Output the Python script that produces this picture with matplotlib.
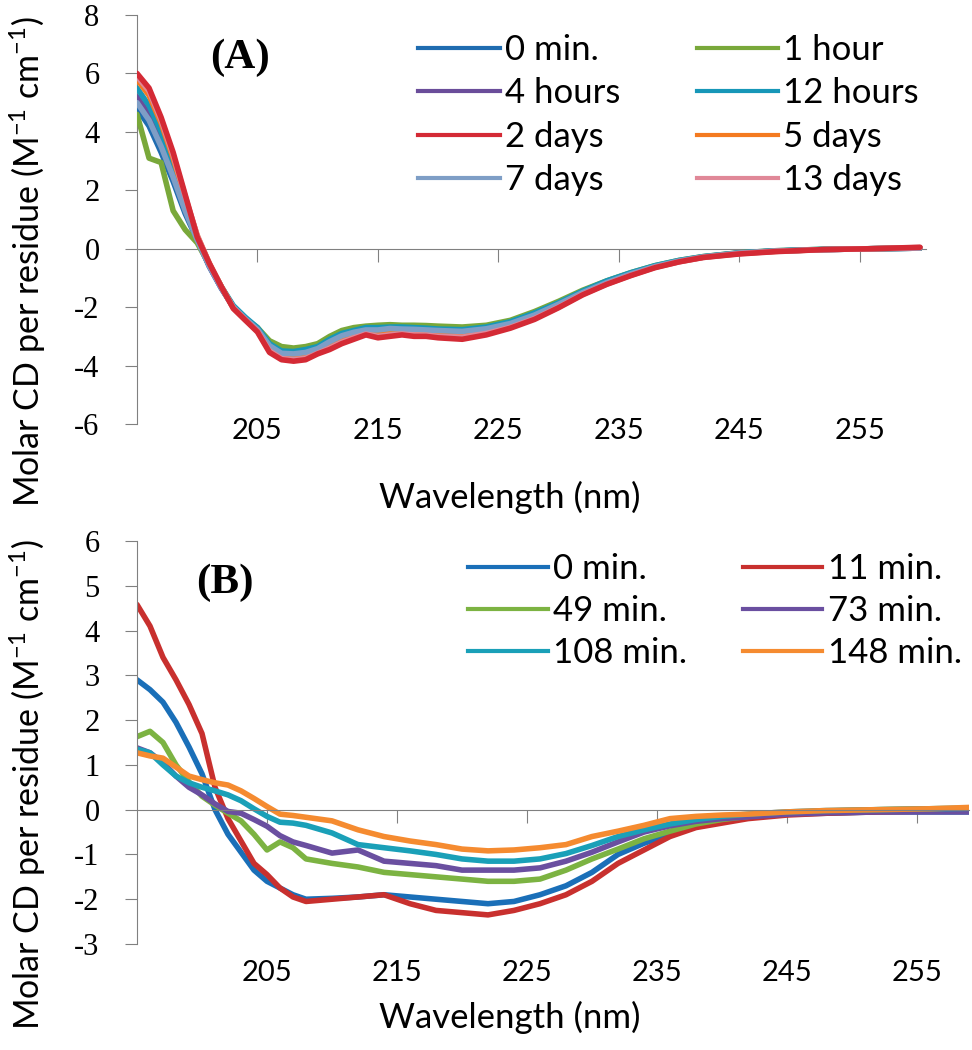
import numpy as np
import matplotlib.pyplot as plt
from matplotlib.lines import Line2D

plt.rcParams['font.family'] = ['Lato', 'DejaVu Sans']
plt.rcParams['mathtext.fontset'] = 'custom'
plt.rcParams['mathtext.rm'] = 'Lato'
plt.rcParams['mathtext.it'] = 'Lato:italic'
plt.rcParams['mathtext.bf'] = 'Lato:bold'

# ---- panel A : long incubation ----
wl_a = [195, 196, 197, 198, 199, 200, 201, 202, 203, 204, 205, 206, 207, 208, 209, 210,
        211, 212, 213, 214, 215, 216, 217, 218, 219, 220, 222, 224, 226, 228, 230, 232,
        234, 236, 238, 240, 242, 245, 248, 252, 256, 260]

a_0min = [4.8, 4.2, 3.3, 2.3, 1.2, 0.3, -0.6, -1.35, -2.0, -2.4, -2.75, -3.3, -3.55, -3.55,
          -3.5, -3.4, -3.15, -2.95, -2.85, -2.75, -2.75, -2.7, -2.72, -2.72, -2.75, -2.78,
          -2.8, -2.72, -2.55, -2.25, -1.9, -1.5, -1.15, -0.85, -0.6, -0.42, -0.28, -0.15,
          -0.08, -0.03, 0.0, 0.02]
a_1h = [4.6, 3.1, 2.95, 1.3, 0.65, 0.2, -0.55, -1.3, -2.0, -2.4, -2.7, -3.15, -3.35, -3.4,
        -3.35, -3.25, -3.0, -2.8, -2.7, -2.65, -2.62, -2.6, -2.62, -2.62, -2.63, -2.65,
        -2.68, -2.62, -2.45, -2.15, -1.8, -1.42, -1.1, -0.82, -0.58, -0.4, -0.27, -0.14,
        -0.07, -0.02, 0.0, 0.02]
a_4h = [5.2, 4.6, 3.7, 2.6, 1.4, 0.35, -0.6, -1.35, -2.0, -2.42, -2.78, -3.35, -3.6, -3.62,
        -3.58, -3.45, -3.2, -3.0, -2.88, -2.8, -2.8, -2.75, -2.77, -2.78, -2.8, -2.82,
        -2.85, -2.76, -2.58, -2.28, -1.92, -1.52, -1.17, -0.87, -0.62, -0.43, -0.29, -0.15,
        -0.08, -0.03, 0.0, 0.02]
a_12h = [5.5, 4.9, 4.0, 2.8, 1.5, 0.4, -0.55, -1.3, -1.95, -2.35, -2.7, -3.25, -3.5, -3.52,
         -3.45, -3.35, -3.1, -2.9, -2.8, -2.7, -2.7, -2.68, -2.68, -2.7, -2.72, -2.75,
         -2.77, -2.68, -2.5, -2.2, -1.85, -1.45, -1.1, -0.82, -0.58, -0.4, -0.27, -0.14,
         -0.07, -0.02, 0.0, 0.02]
a_2d = [6.0, 5.5, 4.5, 3.3, 1.85, 0.4, -0.5, -1.3, -2.05, -2.45, -2.85, -3.55, -3.8, -3.85,
        -3.8, -3.6, -3.45, -3.25, -3.1, -2.95, -3.05, -3.0, -2.95, -3.0, -3.0, -3.05,
        -3.1, -2.95, -2.72, -2.42, -2.02, -1.58, -1.22, -0.92, -0.65, -0.45, -0.3, -0.18,
        -0.1, -0.03, 0.0, 0.05]
a_5d = [5.8, 5.25, 4.3, 3.1, 1.75, 0.45, -0.5, -1.3, -2.02, -2.43, -2.8, -3.45, -3.72, -3.76,
        -3.7, -3.55, -3.35, -3.15, -3.0, -2.9, -2.95, -2.9, -2.88, -2.9, -2.92, -2.95,
        -2.97, -2.86, -2.66, -2.36, -1.98, -1.55, -1.2, -0.9, -0.63, -0.44, -0.29, -0.16,
        -0.09, -0.03, 0.0, 0.03]
a_7d = [5.0, 4.4, 3.5, 2.45, 1.3, 0.3, -0.6, -1.35, -2.0, -2.4, -2.76, -3.32, -3.58, -3.6,
        -3.55, -3.42, -3.18, -2.98, -2.86, -2.78, -2.78, -2.73, -2.75, -2.76, -2.78, -2.8,
        -2.83, -2.74, -2.56, -2.27, -1.9, -1.5, -1.16, -0.86, -0.61, -0.42, -0.28, -0.15,
        -0.08, -0.03, 0.0, 0.02]
a_13d = [5.9, 5.4, 4.4, 3.2, 1.8, 0.45, -0.5, -1.3, -2.03, -2.44, -2.82, -3.5, -3.76, -3.8,
         -3.75, -3.58, -3.4, -3.2, -3.05, -2.92, -3.0, -2.95, -2.92, -2.95, -2.96, -3.0,
         -3.03, -2.9, -2.69, -2.39, -2.0, -1.56, -1.21, -0.91, -0.64, -0.45, -0.3, -0.17,
         -0.09, -0.03, 0.0, 0.04]

labels_a = ['0 min.', '1 hour', '4 hours', '12 hours', '2 days', '5 days', '7 days', '13 days']
colors_a = ['#1f6cb0', '#79a83a', '#6a4d9a', '#1797b8', '#d42a35', '#f47a20', '#7e9ec6', '#e08898']
series_a = [a_0min, a_1h, a_4h, a_12h, a_2d, a_5d, a_7d, a_13d]
zorder_a = [3, 3, 3, 3, 6, 3, 3, 3]

# ---- panel B : short incubation ----
wl_b = [195, 196, 197, 198, 199, 200, 201, 202, 203, 204, 205, 206, 207, 208, 210, 212,
        214, 216, 218, 220, 222, 224, 226, 228, 230, 232, 234, 236, 238, 240, 242, 245,
        248, 252, 256, 259]

b_0 = [2.9, 2.68, 2.4, 1.95, 1.4, 0.8, 0.0, -0.55, -0.95, -1.35, -1.6, -1.75, -1.9, -2.0,
       -1.98, -1.95, -1.9, -1.95, -2.0, -2.05, -2.1, -2.05, -1.9, -1.7, -1.4, -1.0, -0.75,
       -0.55, -0.35, -0.25, -0.18, -0.1, -0.08, -0.05, -0.05, -0.05]
b_11 = [4.58, 4.1, 3.4, 2.9, 2.35, 1.7, 0.5, -0.2, -0.7, -1.2, -1.45, -1.75, -1.95, -2.05,
        -2.0, -1.95, -1.9, -2.1, -2.25, -2.3, -2.35, -2.25, -2.1, -1.9, -1.6, -1.2, -0.9,
        -0.6, -0.4, -0.3, -0.2, -0.12, -0.08, -0.05, -0.03, 0.0]
b_49 = [1.63, 1.75, 1.5, 1.0, 0.62, 0.3, 0.1, -0.08, -0.25, -0.55, -0.9, -0.72, -0.85, -1.1,
        -1.2, -1.28, -1.4, -1.45, -1.5, -1.55, -1.6, -1.6, -1.55, -1.35, -1.1, -0.88, -0.65,
        -0.48, -0.32, -0.22, -0.15, -0.07, -0.03, 0.0, 0.02, 0.03]
b_73 = [1.38, 1.27, 1.05, 0.75, 0.5, 0.33, 0.13, -0.04, -0.08, -0.22, -0.37, -0.58, -0.72,
        -0.8, -0.97, -0.9, -1.15, -1.2, -1.25, -1.35, -1.35, -1.35, -1.3, -1.15, -0.95,
        -0.72, -0.5, -0.36, -0.26, -0.2, -0.16, -0.1, -0.07, -0.05, -0.05, -0.05]
b_108 = [1.35, 1.27, 1.0, 0.75, 0.6, 0.5, 0.42, 0.33, 0.2, 0.02, -0.15, -0.28, -0.3, -0.35,
         -0.52, -0.78, -0.85, -0.92, -1.0, -1.1, -1.15, -1.15, -1.1, -0.98, -0.8, -0.6,
         -0.45, -0.32, -0.22, -0.15, -0.1, -0.05, -0.02, 0.0, 0.02, 0.03]
b_148 = [1.27, 1.2, 1.15, 0.95, 0.75, 0.67, 0.6, 0.55, 0.42, 0.25, 0.07, -0.1, -0.13, -0.17,
         -0.25, -0.45, -0.6, -0.7, -0.78, -0.88, -0.92, -0.9, -0.85, -0.78, -0.6, -0.48,
         -0.35, -0.2, -0.15, -0.12, -0.1, -0.05, -0.02, 0.0, 0.02, 0.05]

labels_b = ['0 min.', '11 min.', '49 min.', '73 min.', '108 min.', '148 min.']
colors_b = ['#1a6fb8', '#c8302e', '#7cb342', '#6a4fa0', '#1aa0b8', '#f58b30']
series_b = [b_0, b_11, b_49, b_73, b_108, b_148]

xticks = [205, 215, 225, 235, 245, 255]
GRAY = '#808080'

W, H = 972, 1050
fig = plt.figure(figsize=(W / 100, H / 100), dpi=100)


def style_axes(ax, ylim, yticks, label_loc):
    ax.set_ylim(*ylim)
    ax.set_yticks(yticks)
    ax.set_yticklabels([str(t) for t in yticks], family='Liberation Serif', fontsize=22)
    for s in ['top', 'right']:
        ax.spines[s].set_visible(False)
    ax.spines['left'].set_color(GRAY)
    ax.spines['bottom'].set_color(GRAY)
    ax.spines['bottom'].set_position(('data', 0))
    ax.tick_params(axis='y', direction='out', length=9, color=GRAY, pad=18)
    ax.set_xticks(xticks)
    ax.tick_params(axis='x', direction='out', length=9, color=GRAY, labelbottom=False)
    sec = ax.secondary_xaxis(label_loc)
    sec.set_xticks(xticks)
    sec.set_xticklabels([str(t) for t in xticks], fontsize=21)
    sec.tick_params(length=0, pad=0)
    sec.spines['bottom'].set_visible(False)


# panel A
axA = fig.add_axes([137 / W, 1 - 424 / H, (926 - 137) / W, (424 - 15) / H])
axA.set_xlim(195, 260.5)
for y, lab, c, z in zip(series_a, labels_a, colors_a, zorder_a):
    axA.plot(wl_a, y, color=c, lw=4, label=lab, zorder=z, solid_capstyle='round')
style_axes(axA, (-6, 8), list(range(-6, 9, 2)), 0.015)
axA.text(240 / W, 1 - 58 / H, '(A)', transform=fig.transFigure, family='Liberation Serif',
         fontweight='bold', fontsize=31, ha='center', va='center')

h = [Line2D([], [], color=c, lw=3) for c in colors_a]
order = [0, 2, 4, 6, 1, 3, 5, 7]
fig.legend([h[i] for i in order], [labels_a[i] for i in order], ncol=2, frameon=False,
           fontsize=25, loc='upper left', bbox_to_anchor=(418 / W, 1 - 34 / H),
           borderpad=0, borderaxespad=0, handlelength=2.35, handletextpad=0.15,
           columnspacing=2.2, labelspacing=0.33)

# panel B
axB = fig.add_axes([137 / W, 1 - 944 / H, (969 - 137) / W, (944 - 541) / H])
axB.set_xlim(195, 259)
for y, lab, c in zip(series_b, labels_b, colors_b):
    axB.plot(wl_b, y, color=c, lw=4, label=lab, solid_capstyle='round')
style_axes(axB, (-3, 6), list(range(-3, 7)), -0.04)
axB.text(225 / W, 1 - 583 / H, '(B)', transform=fig.transFigure, family='Liberation Serif',
         fontweight='bold', fontsize=31, ha='center', va='center')

h = [Line2D([], [], color=c, lw=3) for c in colors_b]
order = [0, 2, 4, 1, 3, 5]
fig.legend([h[i] for i in order], [labels_b[i] for i in order], ncol=2, frameon=False,
           fontsize=25, loc='upper left', bbox_to_anchor=(468 / W, 1 - 553 / H),
           borderpad=0, borderaxespad=0, handlelength=2.3, handletextpad=0.15,
           columnspacing=1.6, labelspacing=0.29)

ylab = 'Molar CD per residue (M$^{-1}$ cm$^{-1}$)'
fig.text(28 / W, 1 - 262 / H, ylab, rotation=90, ha='center', va='center', fontsize=24.5)
fig.text(28 / W, 1 - 785 / H, ylab, rotation=90, ha='center', va='center', fontsize=24.5)
fig.text(510 / W, 1 - 497 / H, 'Wavelength (nm)', ha='center', va='center', fontsize=25)
fig.text(510 / W, 1 - 1017 / H, 'Wavelength (nm)', ha='center', va='center', fontsize=25)

fig.savefig('out.png', dpi=100, facecolor='white')
